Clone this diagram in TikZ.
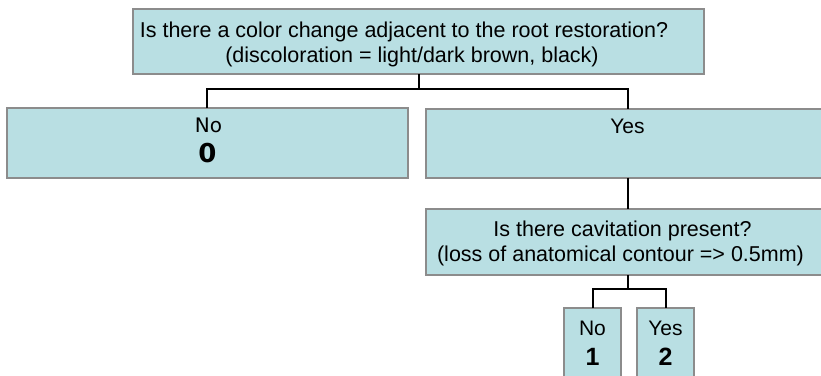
\documentclass[tikz,border=0pt]{standalone}
\usepackage{fontspec}
\setmainfont{Liberation Sans}
\newfontfamily\dejavu{DejaVu Sans}
\definecolor{boxfill}{HTML}{B9DFE3}
\definecolor{boxline}{HTML}{8C8C8C}
\tikzset{
  qbox/.style={draw=boxline, fill=boxfill, line width=2pt, inner sep=0pt, outer sep=0pt},
  conn/.style={draw=black, line width=2pt},
  lbl/.style={anchor=base, inner sep=0pt, outer sep=0pt, text=black},
  qfont/.style={font=\fontsize{21.5}{25}\selectfont},
  afont/.style={font=\fontsize{21}{25}\selectfont},
  nfont/.style={font=\fontsize{25}{30}\selectfont\bfseries},
}
\begin{document}
\begin{tikzpicture}[x=1pt,y=-1pt]
\useasboundingbox (0,0) rectangle (821,375);
\clip (0,0) rectangle (821,375);
\fill[white] (0,0) rectangle (821,375);
% junction points
\coordinate (j1) at (418.5,89);
\coordinate (j2) at (628,289);
% boxes
\node[qbox, minimum width=571pt, minimum height=65pt] (top) at (418.5,41.5) {};
\node[qbox, minimum width=401pt, minimum height=70pt] (no0) at (207,143) {};
\node[qbox, minimum width=404pt, minimum height=69pt] (yes) at (628,143) {};
\node[qbox, minimum width=404pt, minimum height=66pt] (cav) at (628,242) {};
\node[qbox, minimum width=57pt, minimum height=80pt] (no1) at (592.5,348) {};
\node[qbox, minimum width=57pt, minimum height=80pt] (yes2) at (665.5,348) {};
% connectors
\draw[conn] (top.south) -- (j1);
\draw[conn] (no0.north) |- (j1) -| (yes.north);
\draw[conn] (yes.south) -- (cav.north);
\draw[conn] (cav.south) -- (j2);
\draw[conn] (no1.north) |- (j2) -| (yes2.north);
% texts
\node[lbl, qfont] (t1) at (404,37) {Is there a color change adjacent to the root restoration?};
\node[lbl, qfont] (t2) at (412,62.5) {(discoloration = light/dark brown, black)};
\node[lbl, font=\dejavu\fontsize{20}{24}\selectfont] (tno0) at (208.5,132.7) {No};
\node[lbl, font=\dejavu\fontsize{26}{30}\selectfont\bfseries] (tzero) at (207.5,162.7) {0};
\node[lbl, afont] (tyes) at (627.5,133) {Yes};
\node[lbl, qfont] (c1) at (622.5,236.7) {Is there cavitation present?};
\node[lbl, qfont] (c2) at (620.5,261.7) {(loss of anatomical contour => 0.5mm)};
\node[lbl, afont] (tno1) at (592.5,335.7) {No};
\node[lbl, nfont] (tone) at (592.5,365) {1};
\node[lbl, afont] (tyes2) at (665.5,335) {Yes};
\node[lbl, nfont] (ttwo) at (665.5,365) {2};
\end{tikzpicture}
\end{document}
